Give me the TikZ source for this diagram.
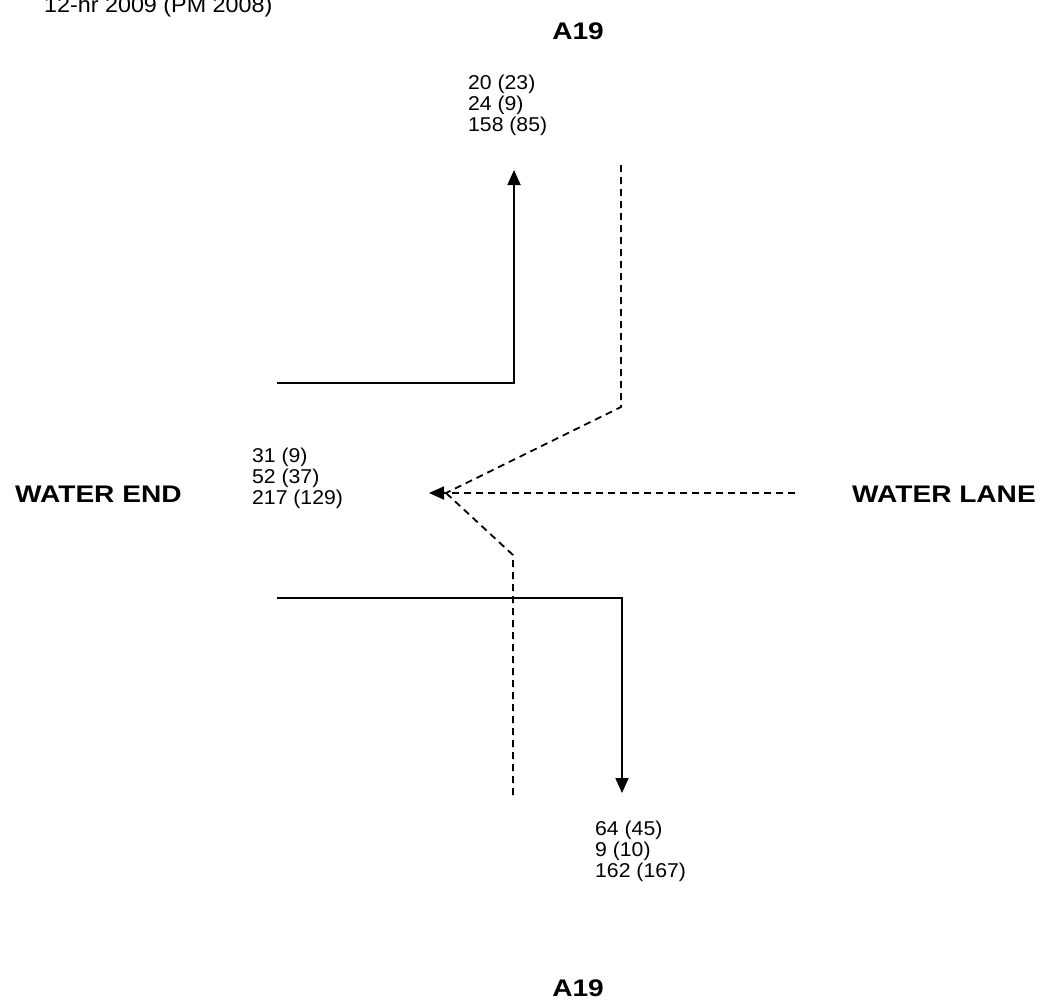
\documentclass[tikz,border=0pt]{standalone}
\usepackage{fontspec}
\setmainfont{Liberation Sans}
\newfontfamily\numfont{Liberation Sans}[FakeStretch=1.06]
\newfontfamily\labfont{Liberation Sans}[FakeStretch=1.17]
\usetikzlibrary{arrows.meta}
\begin{document}
\begin{tikzpicture}[x=1pt,y=-1pt,
  numtext/.style={inner sep=0pt,align=left,anchor=west,font=\numfont\fontsize{20}{21}\selectfont},
  roadlab/.style={inner sep=0pt,font=\labfont\fontsize{24}{28}\selectfont\bfseries},
  flow/.style={line width=1.8pt},
  flowdash/.style={line width=1.8pt,dash pattern=on 7pt off 5pt},
  tip/.style={-{Triangle[length=15pt,width=13pt]}}
]
\useasboundingbox[fill=white] (0,0) rectangle (1047,1005);

% titles and labels
\node[inner sep=0pt,anchor=base west,font=\numfont\fontsize{22}{24}\selectfont] (title) at (44,12) {12-hr 2009 (PM 2008)};
\node[roadlab] (a19n) at (578,31) {A19};
\node[roadlab] (a19s) at (578,988) {A19};
\node[roadlab,anchor=west] (wend) at (15,494) {WATER END};
\node[roadlab,anchor=west] (wlane) at (852,494) {WATER LANE};

% counts
\node[numtext] (cn) at (468,105) {20 (23)\\24 (9)\\158 (85)};
\node[numtext] (cw) at (252,478) {31 (9)\\52 (37)\\217 (129)};
\node[numtext] (cs) at (595,851) {64 (45)\\9 (10)\\162 (167)};

% coordinates
\coordinate (nwEnd) at (277,383);
\coordinate (nCorner) at (514,383);
\coordinate (nTip) at (514,170);
\coordinate (swEnd) at (277,598);
\coordinate (sCorner) at (622,598);
\coordinate (sTip) at (622,793);
\coordinate (neTop) at (621,165);
\coordinate (neCorner) at (621,407);
\coordinate (jn) at (446,493);
\coordinate (wTip) at (429,493);
\coordinate (eEnd) at (795,493);
\coordinate (seBottom) at (513,795);
\coordinate (seCorner) at (513,555);

% solid flows
\draw[flow,tip] (nwEnd) -- (nCorner) -- (nTip);
\draw[flow,tip] (swEnd) -- (sCorner) -- (sTip);

% dashed flows
\draw[flowdash] (neTop) -- (neCorner) -- (jn);
\draw[flowdash] (seBottom) -- (seCorner) -- (jn);
\draw[flowdash,tip] (eEnd) -- (wTip);
\end{tikzpicture}
\end{document}
